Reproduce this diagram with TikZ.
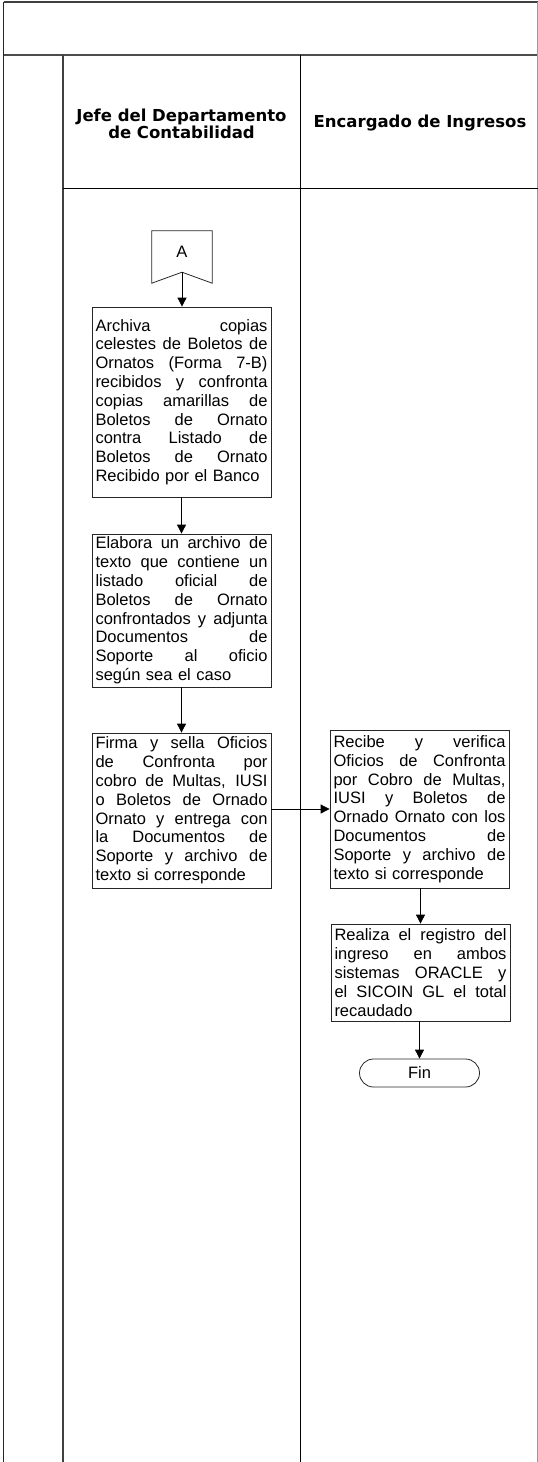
\documentclass[tikz,border=0pt]{standalone}
\usepackage{fontspec}
\setmainfont{Liberation Sans}
\newfontfamily\hdrfont{DejaVu Sans}
\usetikzlibrary{arrows.meta,calc}
\newcommand\jline[1]{\hbox to\hsize{\spaceskip=0.278em plus 1fil\relax #1}}
\newcommand\lline[1]{\hbox{#1}}
\tikzset{
  boxtxt/.style={font=\fontsize{16.5}{18.8}\selectfont},
  stepbox/.style={draw=black!85, line width=0.8pt, minimum width=179pt,
    text width=172pt, inner xsep=3.5pt, inner ysep=0pt, boxtxt},
  arr/.style={draw=black, line width=0.8pt, -{Triangle[width=9pt,length=9pt]}},
  lanehead/.style={font=\hdrfont\bfseries\fontsize{16.5}{17.4}\selectfont, align=center},
  endbox/.style={draw=black!85, line width=0.8pt, minimum width=120pt, minimum height=28pt,
    rounded corners=14pt, inner sep=0pt, boxtxt},
  conbox/.style={minimum width=60pt, minimum height=52pt, inner sep=0pt},
}
\begin{document}
\begin{tikzpicture}[x=1pt,y=-1pt]
\useasboundingbox (0,0) rectangle (538,1462);
% frame
\draw[black!75, line width=1.4pt] (3.5,2) -- (537.5,2);
\draw[black!70, line width=2pt] (3.5,55) -- (537.5,55);
\draw[black!85, line width=1.2pt] (3.5,2) -- (3.5,1462);
\draw[black!40, line width=1pt] (537.5,2) -- (537.5,1462);
\draw[black!75, line width=2pt] (62.5,55) -- (62.5,1462);
\draw[black, line width=1pt] (300.5,55) -- (300.5,1462);
\draw[black, line width=1pt] (62.5,188) -- (537.5,188);
% lane headers
\node[lanehead] (h1) at (181.5,124) {Jefe del Departamento\\de Contabilidad};
\node[lanehead] (h2) at (420,123) {Encargado de Ingresos};
% off-page connector A
\node[conbox] (cA) at (182,257) {};
\coordinate (cAtip) at ($(cA.south)+(0,-11)$);
\draw[black!85, line width=0.8pt] (cA.north west) -- (cA.north east) -- (cA.south east) -- (cAtip) -- (cA.south west) -- cycle;
\node[boxtxt] (cAlabel) at ($(cA.center)+(0,-5)$) {A};
% process boxes
\node[stepbox, minimum height=190pt] (b1) at (181.5,402) {\vbox{%
\jline{Archiva copias}%
\jline{celestes de Boletos de}%
\jline{Ornatos (Forma 7-B)}%
\jline{recibidos y confronta}%
\jline{copias amarillas de}%
\jline{Boletos de Ornato}%
\jline{contra Listado de}%
\jline{Boletos de Ornato}%
\lline{Recibido por el Banco}}};
\node[stepbox, minimum height=153pt] (b2) at (181.5,610.5) {\vbox{%
\jline{Elabora un archivo de}%
\jline{texto que contiene un}%
\jline{listado oficial de}%
\jline{Boletos de Ornato}%
\jline{confrontados y adjunta}%
\jline{Documentos de}%
\jline{Soporte al oficio}%
\lline{según sea el caso}}};
\node[stepbox, minimum height=155pt] (b3) at (181.5,810.5) {\vbox{%
\jline{Firma y sella Oficios}%
\jline{de Confronta por}%
\jline{cobro de Multas, IUSI}%
\jline{o Boletos de Ornado}%
\jline{Ornato y entrega con}%
\jline{la Documentos de}%
\jline{Soporte y archivo de}%
\lline{texto si corresponde}}};
\node[stepbox, minimum height=158pt] (b4) at (419.5,809) {\vbox{%
\jline{Recibe y verifica}%
\jline{Oficios de Confronta}%
\jline{por Cobro de Multas,}%
\jline{IUSI y Boletos de}%
\jline{Ornado Ornato con los}%
\jline{Documentos de}%
\jline{Soporte y archivo de}%
\lline{texto si corresponde}}};
\node[stepbox, minimum height=97pt] (b5) at (420.5,972.5) {\vbox{%
\jline{Realiza el registro del}%
\jline{ingreso en ambos}%
\jline{sistemas ORACLE y}%
\jline{el SICOIN GL el total}%
\lline{recaudado}}};
\node[endbox] (fin) at (419.5,1073) {Fin};
% connectors
\draw[arr] (cAtip) -- (cAtip |- b1.north);
\draw[arr] (b1) -- (b2);
\draw[arr] (b2) -- (b3);
\draw[arr] (b4.west -| b3.east) -- (b4.west);
\draw[arr] (b5.north |- b4.south) -- (b5.north);
\draw[arr] (fin.north |- b5.south) -- (fin.north);
\end{tikzpicture}
\end{document}
